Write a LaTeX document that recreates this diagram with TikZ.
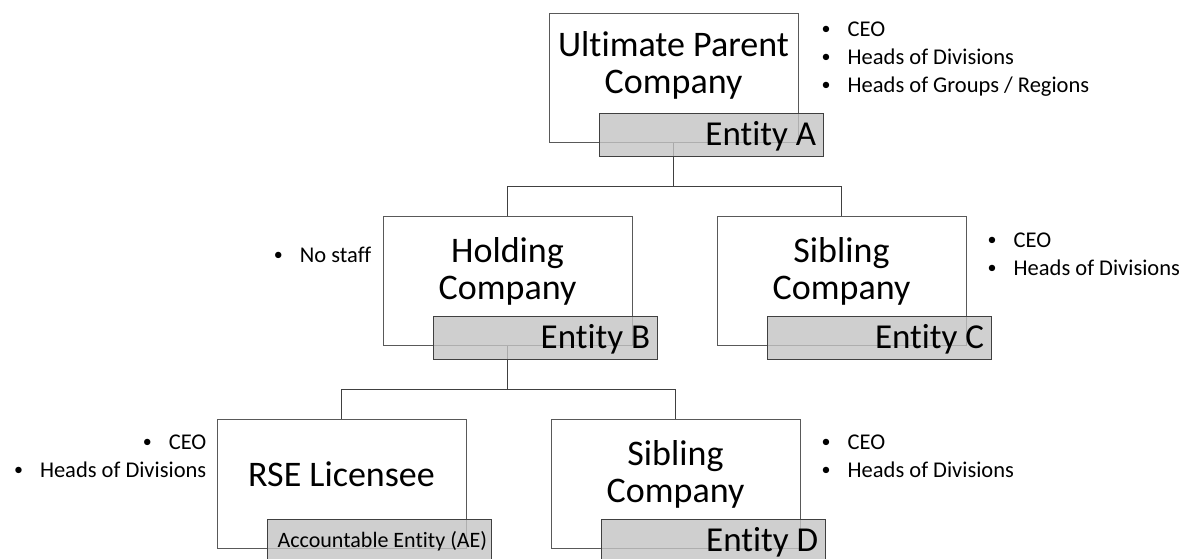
\documentclass[tikz,border=0pt]{standalone}
\usepackage{fontspec}
\setmainfont{Carlito}[Ligatures=NoCommon]
\definecolor{boxline}{RGB}{89,89,89}
\definecolor{entline}{RGB}{64,64,64}
\definecolor{entfill}{RGB}{196,196,196}
\newcommand{\bul}{\makebox[26pt][l]{\raisebox{.07em}{\scalebox{.8}{\textbullet}}}}
\begin{document}
\begin{tikzpicture}[x=1pt,y=-1pt,
  cobox/.style={draw=boxline,line width=1pt,fill=white,minimum width=249pt,minimum height=129pt,inner sep=0pt},
  entbox/.style={draw=entline,line width=1.2pt,fill=entfill,fill opacity=.8,text opacity=1,
    minimum width=224pt,minimum height=43pt,text width=210pt,align=flush right,inner xsep=7pt,inner ysep=0pt,
    font=\fontsize{35}{35}\selectfont,text height=22pt,text depth=0pt,anchor=north west},
  title/.style={font=\fontsize{36}{37}\selectfont,align=center,inner sep=0pt,anchor=base},
  staff/.style={font=\fontsize{22.5}{28}\selectfont,inner sep=0pt},
  link/.style={draw=entline,line width=1.3pt}]
\useasboundingbox (0,0) rectangle (1191,558);
% companies
\node[cobox] (up) at (673.5,77.5) {};
\node[cobox] (hc) at (507.5,280.5) {};
\node[cobox] (sc) at (841.5,280.5) {};
\node[cobox] (rse) at (341.5,483.5) {};
\node[cobox] (sd) at (675.5,483.5) {};
% tree lines
\draw[link] (up.south) -- ++(0,44) -| (hc.north);
\draw[link] (up.south) ++(0,44) -| (sc.north);
\draw[link] (hc.south) -- ++(0,44) -| (rse.north);
\draw[link] (hc.south) ++(0,44) -| (sd.north);
% entities
\node[entbox] (ea) at ([xshift=50pt,yshift=-100pt]up.north west) {Entity A};
\node[entbox] (eb) at ([xshift=50pt,yshift=-100pt]hc.north west) {Entity B};
\node[entbox] (ec) at ([xshift=50pt,yshift=-100pt]sc.north west) {Entity C};
\node[entbox,font=\fontsize{22}{22}\selectfont,text height=14pt,inner xsep=4pt,text width=216pt] (ae)
  at ([xshift=50pt,yshift=-100pt]rse.north west) {Accountable Entity (AE)};
\node[entbox] (ed) at ([xshift=50pt,yshift=-100pt]sd.north west) {Entity D};
% names (base = last line)
\node[title] (upname) at ([yshift=-81pt]up.north) {Ultimate Parent\\Company};
\node[title] (hcname) at ([yshift=-84pt]hc.north) {Holding\\Company};
\node[title] (scname) at ([yshift=-84pt]sc.north) {Sibling\\Company};
\node[title] (rsename) at ([yshift=-68pt]rse.north) {RSE Licensee};
\node[title] (sdname) at ([yshift=-84pt]sd.north) {Sibling\\Company};
% staff
\node[staff,anchor=base west,align=left] (upstaff) at ([xshift=23pt,yshift=-80pt]up.north east)
  {\bul CEO\\\bul Heads of Divisions\\\bul Heads of Groups / Regions};
\node[staff,anchor=base east] (hcstaff) at ([xshift=-11pt,yshift=-47pt]hc.north west) {\bul No staff};
\node[staff,anchor=base west,align=left] (scstaff) at ([xshift=21pt,yshift=-60pt]sc.north east)
  {\bul CEO\\\bul Heads of Divisions};
\node[staff,anchor=base east,align=right] (rsestaff) at ([xshift=-10pt,yshift=-59pt]rse.north west)
  {\bul CEO\\\bul Heads of Divisions};
\node[staff,anchor=base west,align=left] (sdstaff) at ([xshift=21pt,yshift=-59pt]sd.north east)
  {\bul CEO\\\bul Heads of Divisions};
\end{tikzpicture}
\end{document}
